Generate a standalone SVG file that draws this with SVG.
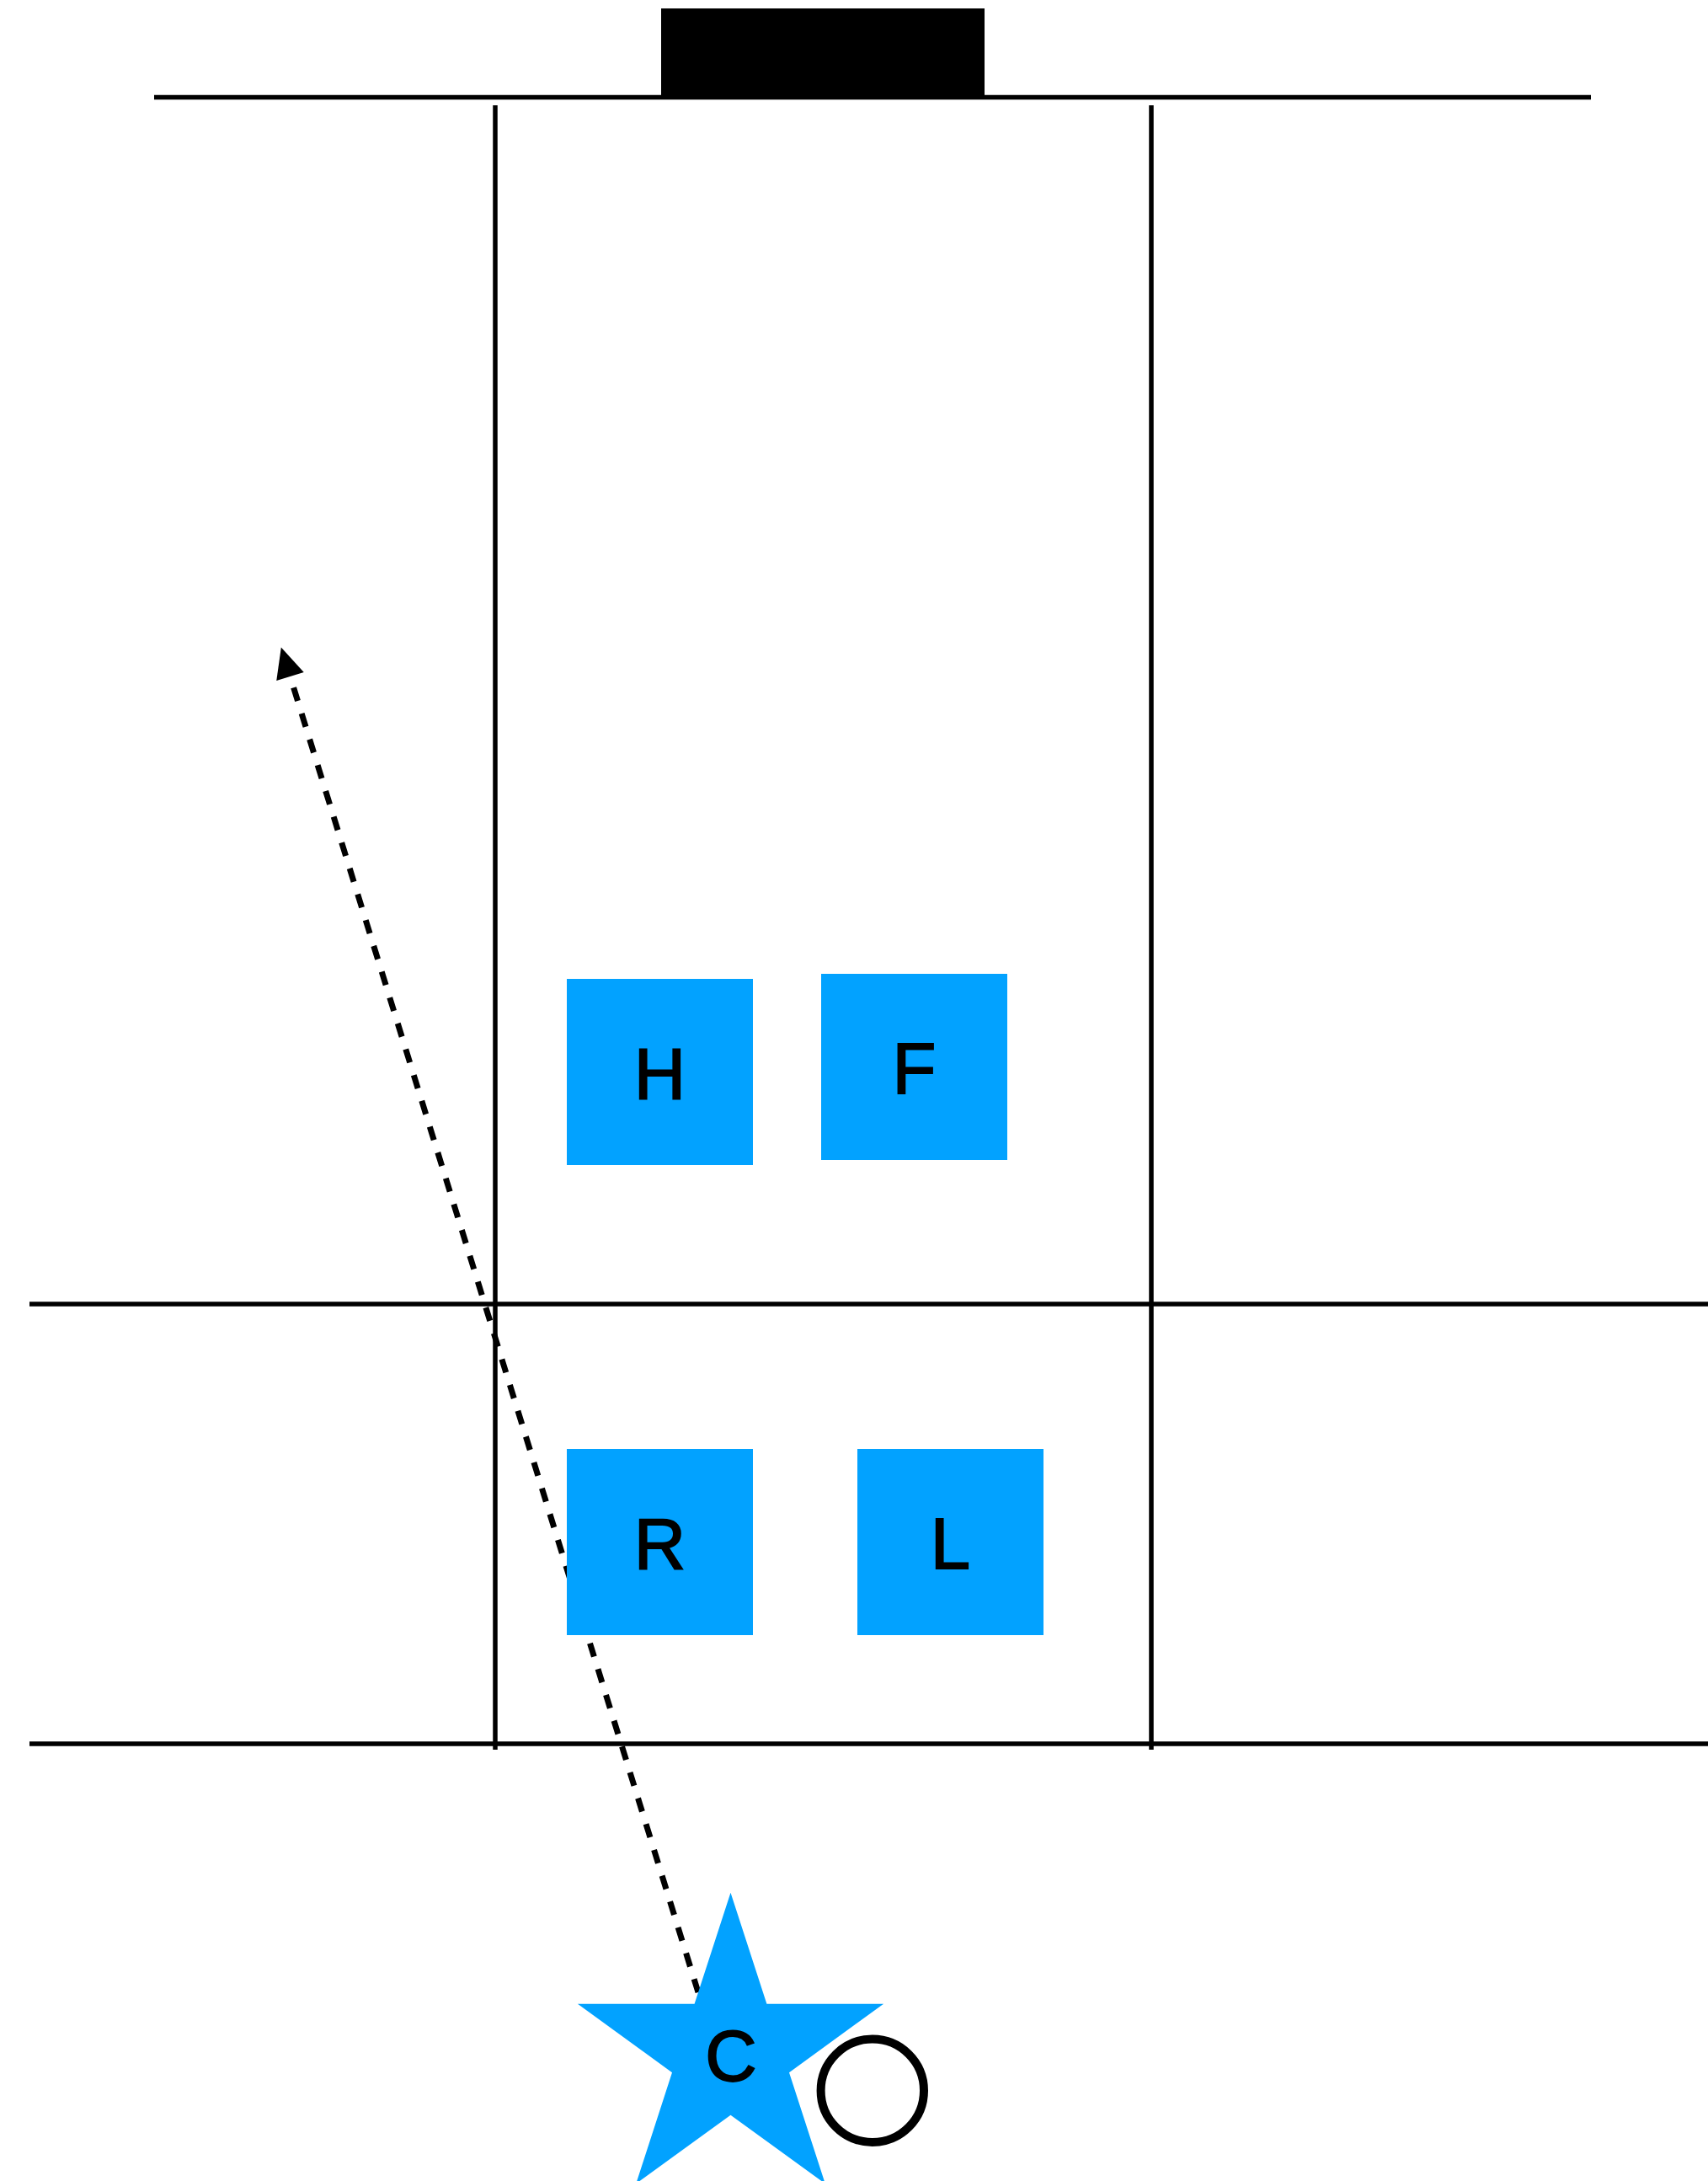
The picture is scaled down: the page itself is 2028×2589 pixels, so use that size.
<svg xmlns="http://www.w3.org/2000/svg" width="2028" height="2589" viewBox="0 0 2028 2589">
  <style>
    .grid { stroke: #000; stroke-width: 5.5; fill: none; }
    .player { fill: #02A2FF; }
    .lbl { font-family: "Liberation Sans", Arial, sans-serif; font-size: 85px; fill: #000; stroke: #000; stroke-width: 1.8; text-anchor: middle; }
    .path { stroke: #000; stroke-width: 7; fill: none; stroke-dasharray: 16.5 15.6; }
  </style>
  <defs>
    <marker id="arrow" markerUnits="userSpaceOnUse" viewBox="-1 -20 40 40" markerWidth="40" markerHeight="40" refX="0" refY="0" orient="auto">
      <path d="M36,0 L0,-17 L0,17 Z" fill="#000"/>
    </marker>
  </defs>
  <rect width="2028" height="2589" fill="#fff"/>

  <g id="field">
    <rect id="net" x="785" y="10" width="384" height="106" fill="#000"/>
    <line class="grid" x1="183" y1="115.5" x2="1889" y2="115.5"/>
    <line class="grid" x1="588" y1="125" x2="588" y2="2077"/>
    <line class="grid" x1="1367" y1="125" x2="1367" y2="2077"/>
    <line class="grid" x1="35" y1="1548" x2="2028" y2="1548"/>
    <line class="grid" x1="35" y1="2070" x2="2028" y2="2070"/>
  </g>

  <g id="connectors">
    <path class="path" d="M829,2365 L344.5,803" marker-end="url(#arrow)"/>
  </g>

  <g id="node-H">
    <rect class="player" x="673" y="1162" width="221" height="221"/>
    <text class="lbl" x="783.5" y="1303.5">H</text>
  </g>
  <g id="node-F">
    <rect class="player" x="975" y="1156" width="221" height="221"/>
    <text class="lbl" x="1085.5" y="1298">F</text>
  </g>
  <g id="node-R">
    <rect class="player" x="673" y="1720" width="221" height="221"/>
    <text class="lbl" x="783.5" y="1862">R</text>
  </g>
  <g id="node-L">
    <rect class="player" x="1018" y="1720" width="221" height="221"/>
    <text class="lbl" x="1128.5" y="1862">L</text>
  </g>
  <g id="node-C">
    <polygon class="player" points="867.5,2246.7 910.4,2378.7 1049.1,2378.7 937.0,2460.3 979.8,2592.2 867.5,2510.7 755.2,2592.2 798.0,2460.3 685.9,2378.7 824.6,2378.7"/>
    <text class="lbl" x="868" y="2469.5">C</text>
  </g>
  <g id="node-ball">
    <circle cx="1035.8" cy="2481.7" r="61.2" fill="none" stroke="#000" stroke-width="10"/>
  </g>
</svg>
